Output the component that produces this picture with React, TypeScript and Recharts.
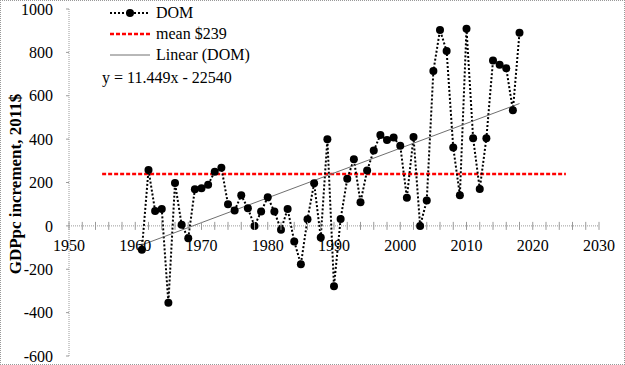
import { ComposedChart, Line, XAxis, YAxis, ReferenceLine, Legend } from "recharts"

const years = [
  1961, 1962, 1963, 1964, 1965, 1966, 1967, 1968, 1969, 1970,
  1971, 1972, 1973, 1974, 1975, 1976, 1977, 1978, 1979, 1980,
  1981, 1982, 1983, 1984, 1985, 1986, 1987, 1988, 1989, 1990,
  1991, 1992, 1993, 1994, 1995, 1996, 1997, 1998, 1999, 2000,
  2001, 2002, 2003, 2004, 2005, 2006, 2007, 2008, 2009, 2010,
  2011, 2012, 2013, 2014, 2015, 2016, 2017, 2018,
]
const domValues = [
  -110, 258, 69, 78, -355, 198, 5, -57, 169, 174,
  190, 250, 268, 100, 71, 141, 81, 0, 66, 132,
  66, -18, 78, -72, -177, 31, 197, -54, 400, -278,
  32, 217, 307, 109, 255, 347, 419, 396, 407, 369,
  130, 410, 0, 117, 714, 903, 806, 361, 141, 909,
  404, 170, 404, 762, 743, 727, 533, 891,
]

const meanYears = [1955, 2025]
const meanValues = [239, 239]
const trendYears = [1961, 2018]
const trendValues = [-88, 564]

const xMajorTicks = [1950, 1960, 1970, 1980, 1990, 2000, 2010, 2020, 2030]
const yTicks = [-600, -400, -200, 0, 200, 400, 600, 800, 1000]

const domData = years.map((year, i) => ({ year, value: domValues[i] }))
const meanData = meanYears.map((year, i) => ({ year, value: meanValues[i] }))
const trendData = trendYears.map((year, i) => ({ year, value: trendValues[i] }))

// minor ticks every 2 years on the x axis
const xTicks: number[] = []
for (let y = 1950; y <= 2030; y += 2) xTicks.push(y)

const FONT = "'Liberation Serif', 'Times New Roman', serif"
const AXIS = "#9a9a9a"
// the x axis crosses at y = 0 (plot top 9, plot bottom 356, domain -600..1000)
const ZERO_Y = 9 + (1000 / 1600) * 347

function XTick(props: any) {
  const { x, payload } = props
  const major = xMajorTicks.includes(payload.value)
  return (
    <g>
      <line x1={x} x2={x} y1={ZERO_Y - 4} y2={ZERO_Y + 4} stroke={AXIS} strokeWidth={1} />
      {major && (
        <text x={x} y={ZERO_Y + 25} textAnchor="middle" fontSize={16} fill="#000" fontFamily={FONT}>
          {payload.value}
        </text>
      )}
    </g>
  )
}

function DomDot(props: any) {
  const { cx, cy, index } = props
  return <circle key={`d-${index}`} cx={cx} cy={cy} r={4} fill="#000" />
}

function LegendBox() {
  const row = { display: "flex", alignItems: "center", height: 21 }
  const label = { marginLeft: 4, fontSize: 16, color: "#000", fontFamily: FONT }
  return (
    <div style={{ fontFamily: FONT, lineHeight: 1 }}>
      <div style={{ ...row, marginLeft: 6 }}>
        <svg width={44} height={10}>
          <line x1={2} x2={42} y1={5} y2={5} stroke="#000" strokeWidth={2} strokeDasharray="2 2" />
          <circle cx={22} cy={5} r={4} fill="#000" />
        </svg>
        <span style={label}>DOM</span>
      </div>
      <div style={{ ...row, marginLeft: 6 }}>
        <svg width={44} height={10}>
          <line x1={2} x2={42} y1={5} y2={5} stroke="#ff0000" strokeWidth={2.5} strokeDasharray="4 2" />
        </svg>
        <span style={label}>mean $239</span>
      </div>
      <div style={{ ...row, marginLeft: 6 }}>
        <svg width={44} height={10}>
          <line x1={2} x2={42} y1={5} y2={5} stroke="#707070" strokeWidth={1} />
        </svg>
        <span style={label}>Linear (DOM)</span>
      </div>
      <div style={{ ...row, height: 26, fontSize: 16, fontFamily: FONT }}>y = 11.449x - 22540</div>
    </div>
  )
}

export default function App() {
  return (
    <div style={{ position: "absolute", left: 0, top: 0, width: 625, height: 365, background: "#fff", fontFamily: FONT }}>
      <ComposedChart
        width={625}
        height={365}
        margin={{ top: 9, right: 26, bottom: 8, left: 9 }}
        style={{ fontFamily: FONT }}
      >
        <XAxis
          type="number"
          dataKey="year"
          domain={[1950, 2030]}
          ticks={xTicks}
          interval={0}
          height={1}
          axisLine={false}
          tickLine={false}
          tickSize={0}
          tick={<XTick />}
        />
        <YAxis
          type="number"
          domain={[-600, 1000]}
          ticks={yTicks}
          interval={0}
          width={60}
          axisLine={{ stroke: AXIS, strokeDasharray: "1 1" }}
          tickLine={{ stroke: AXIS }}
          tickSize={3}
          tickMargin={13}
          tick={{ fontSize: 16, fill: "#000", fontFamily: FONT }}
          label={{
            content: () => (
              <text
                x={15}
                y={184}
                transform="rotate(-90 15 184)"
                textAnchor="middle"
                dominantBaseline="central"
                fontSize={17}
                fontWeight="bold"
                fontFamily={FONT}
                fill="#000"
              >
                GDPpc increment, 2011$
              </text>
            ),
          }}
        />
        <ReferenceLine y={0} stroke={AXIS} strokeDasharray="1 1" ifOverflow="extendDomain" />
        <Line
          data={meanData}
          dataKey="value"
          type="linear"
          stroke="#ff0000"
          strokeWidth={2.5}
          strokeDasharray="4 2"
          dot={false}
          isAnimationActive={false}
        />
        <Line
          data={domData}
          dataKey="value"
          type="linear"
          stroke="#000"
          strokeWidth={2}
          strokeDasharray="2 2"
          dot={<DomDot />}
          activeDot={false}
          isAnimationActive={false}
        />
        <Line
          data={trendData}
          dataKey="value"
          type="linear"
          stroke="#707070"
          strokeWidth={1}
          dot={false}
          isAnimationActive={false}
        />
        <Legend
          layout="vertical"
          align="center"
          verticalAlign="middle"
          content={<LegendBox />}
          wrapperStyle={{ left: 102, top: 2, width: 220 }}
        />
      </ComposedChart>
      <div
        style={{
          position: "absolute",
          left: 0,
          top: 0,
          width: 625,
          height: 365,
          boxSizing: "border-box",
          border: "1px dotted #999",
          pointerEvents: "none",
        }}
      />
    </div>
  )
}
